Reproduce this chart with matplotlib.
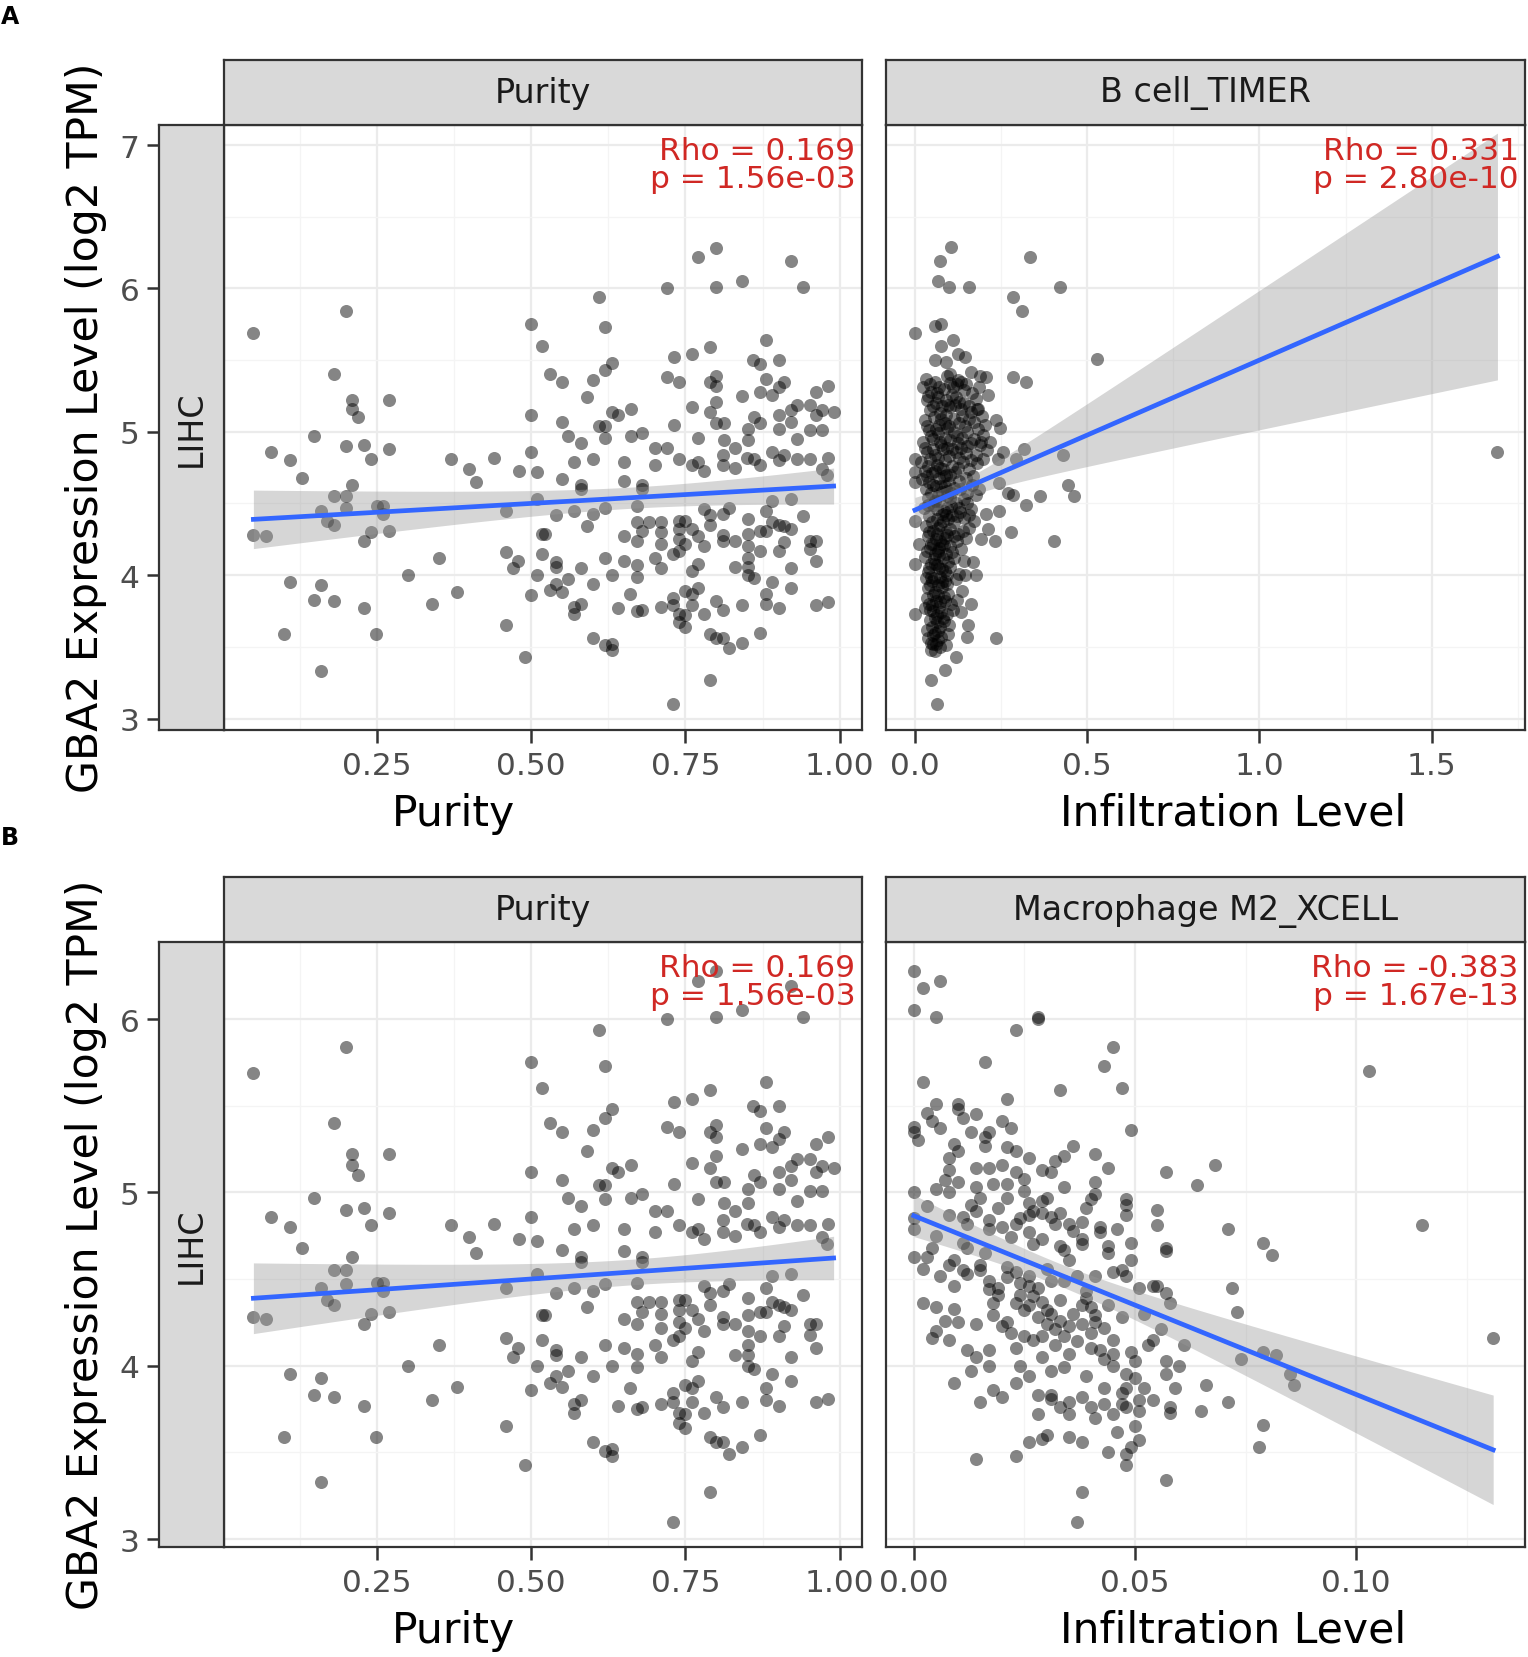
import numpy as np
import matplotlib
matplotlib.use("Agg")
import matplotlib.pyplot as plt

# ---- data (x, GBA2 log2 TPM) ----
purity_pts = [
    (0.050, 5.69), (0.200, 5.84), (0.180, 5.40), (0.210, 5.22), (0.210, 5.16), (0.220, 5.10),
    (0.269, 5.22), (0.149, 4.97), (0.079, 4.86), (0.110, 4.80), (0.129, 4.68), (0.200, 4.90),
    (0.229, 4.91), (0.240, 4.81), (0.269, 4.88), (0.210, 4.63), (0.370, 4.81), (0.400, 4.74),
    (0.440, 4.82), (0.410, 4.65), (0.480, 4.73), (0.510, 4.72), (0.500, 5.75), (0.518, 5.60),
    (0.500, 5.12), (0.500, 4.86),
    (0.610, 5.94), (0.620, 5.73), (0.631, 5.48), (0.619, 5.43), (0.530, 5.40), (0.550, 5.35),
    (0.600, 5.36), (0.590, 5.24), (0.550, 5.07), (0.631, 5.14), (0.640, 5.12), (0.661, 5.16),
    (0.610, 5.04), (0.619, 5.04), (0.619, 4.96), (0.560, 4.97), (0.580, 4.92), (0.570, 4.79),
    (0.600, 4.81), (0.550, 4.67), (0.580, 4.63), (0.651, 4.79), (0.651, 4.66), (0.661, 4.97),
    (0.680, 4.99), (0.701, 4.89), (0.700, 4.77), (0.680, 4.63), (0.720, 6.00), (0.731, 5.52),
    (0.720, 5.38), (0.740, 5.35), (0.731, 5.05), (0.720, 4.89), (0.740, 4.81), (0.761, 5.54),
    (0.761, 5.17), (0.770, 6.22), (0.800, 6.28), (0.800, 6.01), (0.790, 5.59), (0.800, 5.39),
    (0.790, 5.35), (0.800, 5.32), (0.800, 5.21), (0.790, 5.14), (0.800, 5.06), (0.812, 5.06),
    (0.770, 4.96), (0.812, 4.94), (0.761, 4.77), (0.770, 4.79), (0.780, 4.73), (0.811, 4.84),
    (0.811, 4.77), (0.831, 4.75), (0.831, 4.89), (0.841, 6.05), (0.841, 5.25), (0.851, 5.02),
    (0.851, 4.94), (0.861, 5.10), (0.870, 5.06), (0.850, 4.82), (0.861, 4.81), (0.870, 4.77),
    (0.860, 5.50), (0.870, 5.47), (0.881, 5.64), (0.901, 5.50), (0.881, 5.37), (0.870, 5.28),
    (0.890, 5.26), (0.901, 5.31), (0.910, 5.35), (0.901, 5.12), (0.901, 5.02), (0.921, 5.15),
    (0.931, 5.19), (0.921, 5.07), (0.931, 4.95), (0.890, 4.86), (0.901, 4.80), (0.910, 4.84),
    (0.931, 4.81), (0.921, 6.19), (0.941, 6.01), (0.951, 5.19), (0.961, 5.28), (0.981, 5.32),
    (0.961, 5.12), (0.971, 5.15), (0.990, 5.14), (0.951, 5.01), (0.971, 5.01), (0.951, 4.81),
    (0.981, 4.82), (0.971, 4.74), (0.980, 4.70),
    (0.180, 4.55), (0.200, 4.55), (0.200, 4.47), (0.160, 4.45), (0.170, 4.38), (0.180, 4.35),
    (0.050, 4.28), (0.070, 4.27), (0.240, 4.30), (0.229, 4.24), (0.269, 4.31), (0.250, 4.48),
    (0.260, 4.48), (0.260, 4.43), (0.350, 4.12), (0.300, 4.00), (0.110, 3.95), (0.159, 3.93),
    (0.149, 3.83), (0.180, 3.82), (0.229, 3.77), (0.340, 3.80), (0.380, 3.88), (0.099, 3.59),
    (0.249, 3.59), (0.159, 3.33), (0.460, 4.45), (0.460, 4.16), (0.479, 4.10), (0.470, 4.05),
    (0.510, 4.00), (0.500, 3.86), (0.518, 4.29), (0.518, 4.15), (0.460, 3.65), (0.490, 3.43),
    (0.510, 4.53),
    (0.580, 4.60), (0.680, 4.60), (0.600, 4.43), (0.570, 4.45), (0.540, 4.42), (0.590, 4.34),
    (0.620, 4.47), (0.672, 4.48), (0.523, 4.29), (0.540, 4.09), (0.540, 4.06), (0.560, 3.97),
    (0.540, 3.94), (0.550, 3.88), (0.530, 3.90), (0.580, 4.05), (0.600, 3.94), (0.570, 3.78),
    (0.570, 3.73), (0.580, 3.80), (0.620, 4.12), (0.631, 4.00), (0.650, 4.27), (0.650, 4.10),
    (0.671, 4.37), (0.671, 4.24), (0.671, 4.07), (0.671, 3.99), (0.680, 4.31), (0.691, 4.37),
    (0.710, 4.37), (0.710, 4.30), (0.710, 4.22), (0.700, 4.12), (0.710, 4.05), (0.660, 3.87),
    (0.640, 3.77), (0.671, 3.75), (0.680, 3.76), (0.710, 3.78), (0.600, 3.56), (0.620, 3.51),
    (0.631, 3.48), (0.631, 3.52), (0.730, 3.84), (0.730, 3.79), (0.739, 3.73), (0.739, 3.67),
    (0.750, 3.64), (0.750, 3.72), (0.760, 3.79), (0.750, 3.89), (0.760, 3.87), (0.770, 3.91),
    (0.780, 3.73), (0.730, 4.15), (0.739, 4.17), (0.760, 4.03), (0.770, 4.08), (0.739, 4.38),
    (0.739, 4.32), (0.739, 4.25), (0.750, 4.38), (0.750, 4.22), (0.760, 4.32), (0.770, 4.27),
    (0.780, 4.20), (0.780, 4.46), (0.790, 4.42), (0.790, 4.35), (0.800, 3.82), (0.811, 3.76),
    (0.790, 3.59), (0.800, 3.56), (0.811, 3.56), (0.821, 3.49), (0.841, 3.53), (0.790, 3.27),
    (0.730, 3.10), (0.811, 4.43), (0.811, 4.28), (0.811, 4.24), (0.831, 4.24), (0.821, 4.47),
    (0.851, 4.39), (0.851, 4.29), (0.851, 4.20), (0.851, 4.12), (0.831, 4.06), (0.851, 4.06),
    (0.851, 4.00), (0.861, 3.98), (0.870, 4.17), (0.841, 3.79), (0.870, 3.60), (0.870, 4.31),
    (0.881, 4.31), (0.881, 4.45), (0.890, 4.52), (0.890, 4.37), (0.901, 4.35), (0.910, 4.34),
    (0.921, 4.32), (0.921, 4.53), (0.941, 4.41), (0.910, 4.23), (0.901, 4.17), (0.890, 3.95),
    (0.881, 3.87), (0.881, 3.80), (0.901, 3.77), (0.921, 4.05), (0.921, 3.91), (0.951, 4.24),
    (0.951, 4.18), (0.961, 4.24), (0.961, 4.10), (0.961, 3.79), (0.981, 3.81),
]

bcell_pts = [
    # spread points
    (0.104, 6.29), (0.072, 6.19), (0.067, 6.05), (0.099, 6.01), (0.157, 6.01), (0.335, 6.22),
    (0.422, 6.01), (0.286, 5.94), (0.311, 5.84), (0.001, 5.69), (0.057, 5.74), (0.077, 5.75),
    (0.111, 5.64), (0.077, 5.60), (0.125, 5.54), (0.057, 5.50), (0.091, 5.49), (0.144, 5.52),
    (0.101, 5.40), (0.164, 5.42), (0.188, 5.39), (0.207, 5.38), (0.135, 5.35), (0.284, 5.38),
    (0.321, 5.35), (0.212, 5.26), (0.529, 5.51), (0.236, 5.08), (0.246, 5.03), (0.183, 5.16),
    (0.193, 4.93), (0.217, 4.93), (0.255, 4.86), (0.316, 4.88), (0.294, 4.81), (0.241, 4.81),
    (0.429, 4.84), (0.444, 4.63), (0.461, 4.55), (0.362, 4.55), (0.323, 4.49), (0.284, 4.56),
    (0.270, 4.57), (0.243, 4.64), (0.243, 4.45), (0.207, 4.43), (0.212, 4.32), (0.191, 4.25),
    (0.231, 4.24), (0.279, 4.30), (0.405, 4.24), (0.168, 4.09), (0.178, 4.00), (0.144, 4.00),
    (0.164, 3.80), (0.154, 3.65), (0.152, 3.57), (0.234, 3.56), (0.120, 3.43), (0.086, 3.34),
    (0.046, 3.27), (0.065, 3.10), (0.048, 3.48), (0.000, 3.73), (0.000, 4.08), (0.011, 4.22),
    (0.000, 4.38), (0.000, 4.81), (0.000, 4.65), (0.000, 4.72), (0.135, 3.74), (0.096, 3.59),
    (0.091, 3.51), (1.691, 4.86),
    # dense column near zero
    (0.031, 5.37), (0.058, 5.35), (0.094, 5.39), (0.122, 5.33), (0.024, 5.31), (0.047, 5.28),
    (0.083, 5.30), (0.109, 5.26), (0.142, 5.29), (0.036, 5.22), (0.068, 5.24), (0.097, 5.19),
    (0.128, 5.21), (0.157, 5.18), (0.176, 5.23), (0.043, 5.15), (0.074, 5.13), (0.103, 5.17),
    (0.138, 5.11), (0.162, 5.14), (0.029, 5.08), (0.055, 5.10), (0.086, 5.06), (0.114, 5.09),
    (0.146, 5.04), (0.171, 5.07), (0.041, 5.01), (0.066, 4.99), (0.093, 5.03), (0.121, 4.97),
    (0.152, 5.00), (0.198, 4.98), (0.022, 4.93), (0.052, 4.95), (0.077, 4.91), (0.101, 4.94),
    (0.133, 4.89), (0.163, 4.92), (0.034, 4.86), (0.057, 4.84), (0.081, 4.88), (0.099, 4.83),
    (0.118, 4.86), (0.148, 4.85), (0.208, 4.87), (0.019, 4.79), (0.044, 4.81), (0.063, 4.77),
    (0.088, 4.80), (0.107, 4.76), (0.139, 4.79), (0.181, 4.78), (0.028, 4.73), (0.049, 4.71),
    (0.072, 4.75), (0.091, 4.70), (0.117, 4.72), (0.158, 4.74), (0.021, 4.67), (0.042, 4.65),
    (0.069, 4.68), (0.098, 4.64), (0.127, 4.66), (0.168, 4.69), (0.033, 4.60), (0.061, 4.62),
    (0.079, 4.58), (0.112, 4.61), (0.151, 4.57), (0.187, 4.60), (0.038, 4.54), (0.059, 4.52),
    (0.092, 4.55), (0.119, 4.50), (0.141, 4.53), (0.176, 4.56), (0.027, 4.47), (0.053, 4.49),
    (0.084, 4.45), (0.104, 4.48), (0.131, 4.44), (0.162, 4.46), (0.041, 4.41), (0.064, 4.39),
    (0.089, 4.42), (0.113, 4.37), (0.143, 4.40), (0.171, 4.38), (0.031, 4.34), (0.052, 4.31),
    (0.073, 4.35), (0.102, 4.32), (0.124, 4.29), (0.156, 4.33), (0.039, 4.27), (0.061, 4.25),
    (0.078, 4.22), (0.094, 4.28), (0.121, 4.24), (0.149, 4.26), (0.044, 4.19), (0.066, 4.17),
    (0.083, 4.21), (0.108, 4.16), (0.133, 4.18), (0.029, 4.13), (0.054, 4.11), (0.071, 4.14),
    (0.096, 4.09), (0.114, 4.12), (0.141, 4.10), (0.042, 4.05), (0.063, 4.07), (0.086, 4.03),
    (0.101, 4.06), (0.127, 4.01), (0.033, 3.98), (0.049, 3.96), (0.074, 3.99), (0.092, 3.94),
    (0.118, 3.97), (0.039, 3.91), (0.058, 3.88), (0.079, 3.92), (0.097, 3.87), (0.136, 3.89),
    (0.034, 3.84), (0.061, 3.82), (0.083, 3.85), (0.104, 3.80), (0.122, 3.83), (0.028, 3.77),
    (0.052, 3.75), (0.071, 3.78), (0.093, 3.73), (0.111, 3.76), (0.043, 3.69), (0.064, 3.67),
    (0.082, 3.70), (0.099, 3.65), (0.036, 3.62), (0.057, 3.60), (0.076, 3.57), (0.047, 3.53),
    (0.068, 3.55), (0.058, 3.47),
    (0.125, 5.36), (0.148, 5.33), (0.166, 5.27), (0.185, 5.31), (0.119, 5.24), (0.143, 5.20),
    (0.181, 5.16), (0.196, 5.11), (0.128, 5.06), (0.158, 5.09), (0.183, 5.02), (0.203, 5.05),
    (0.113, 5.00), (0.137, 4.96), (0.171, 4.95), (0.188, 4.91), (0.126, 4.92), (0.151, 4.90),
    (0.176, 4.84), (0.197, 4.81), (0.129, 4.82), (0.162, 4.80), (0.108, 4.88), (0.087, 4.96),
    (0.069, 5.05), (0.079, 5.18), (0.091, 5.12), (0.062, 5.20), (0.111, 5.31), (0.134, 5.16),
    (0.082, 4.74), (0.103, 4.70), (0.126, 4.75), (0.149, 4.68), (0.076, 4.62), (0.094, 4.59),
    (0.131, 4.60), (0.165, 4.63), (0.071, 4.52), (0.101, 4.54), (0.128, 4.47), (0.152, 4.50),
    (0.078, 4.43), (0.097, 4.39), (0.122, 4.41), (0.158, 4.42), (0.067, 4.33), (0.089, 4.30),
    (0.114, 4.27), (0.139, 4.31),
    (0.048, 4.22), (0.069, 4.19), (0.091, 4.15), (0.058, 4.08), (0.079, 4.04), (0.047, 3.99),
    (0.066, 3.93), (0.087, 3.96), (0.053, 3.86), (0.072, 3.81), (0.044, 3.76), (0.063, 3.72),
    (0.084, 3.68), (0.049, 3.64), (0.067, 3.61), (0.053, 3.52), (0.039, 3.56), (0.072, 3.50),
    (0.041, 3.80), (0.037, 4.02),
    (0.045, 5.33), (0.071, 5.31), (0.101, 5.34), (0.038, 5.25), (0.064, 5.27), (0.089, 5.22),
    (0.116, 5.19), (0.051, 5.18), (0.076, 5.09), (0.098, 5.04), (0.035, 5.04), (0.061, 5.02),
    (0.047, 4.97), (0.073, 4.93), (0.094, 4.89), (0.029, 4.89), (0.053, 4.88), (0.067, 4.82),
    (0.039, 4.76), (0.058, 4.73), (0.083, 4.69), (0.035, 4.69), (0.052, 4.63), (0.087, 4.62),
    (0.047, 4.57), (0.068, 4.55), (0.105, 4.57), (0.039, 4.49), (0.064, 4.46), (0.093, 4.47),
    (0.049, 4.37), (0.081, 4.38), (0.108, 4.42), (0.041, 4.30), (0.063, 4.29), (0.088, 4.26),
    (0.053, 4.22), (0.072, 4.24), (0.101, 4.20), (0.036, 4.17), (0.058, 4.15), (0.082, 4.12),
    (0.048, 4.08), (0.069, 4.05), (0.092, 4.00), (0.056, 3.98), (0.078, 3.95), (0.045, 3.93),
    (0.067, 3.86), (0.088, 3.82), (0.049, 3.79), (0.077, 3.74), (0.058, 3.70), (0.072, 3.64),
    (0.052, 3.58), (0.062, 3.52),
]

m2_pts = [
    (0.000, 6.28), (0.002, 6.18), (0.006, 6.22), (0.000, 6.05), (0.005, 6.01), (0.028, 6.01),
    (0.028, 6.00), (0.023, 5.94), (0.016, 5.75), (0.002, 5.64), (0.021, 5.54), (0.033, 5.59),
    (0.045, 5.84), (0.043, 5.73), (0.047, 5.60), (0.005, 5.51), (0.010, 5.51), (0.010, 5.48),
    (0.011, 5.43), (0.000, 5.38), (0.000, 5.35), (0.001, 5.30), (0.004, 5.41), (0.006, 5.37),
    (0.013, 5.35), (0.017, 5.35), (0.016, 5.32), (0.016, 5.27), (0.020, 5.41), (0.022, 5.37),
    (0.036, 5.27), (0.034, 5.21), (0.021, 5.26), (0.023, 5.24), (0.026, 5.20), (0.032, 5.18),
    (0.041, 5.22), (0.049, 5.36), (0.044, 5.14), (0.057, 5.12), (0.010, 5.24), (0.008, 5.20),
    (0.008, 5.13), (0.007, 5.07), (0.010, 5.06), (0.005, 5.02), (0.008, 5.00), (0.014, 5.14),
    (0.017, 5.14), (0.020, 5.16), (0.023, 5.12), (0.021, 5.05), (0.025, 5.08), (0.029, 5.13),
    (0.031, 5.12), (0.014, 5.03), (0.015, 4.97), (0.021, 4.97), (0.025, 5.01), (0.026, 4.94),
    (0.029, 4.95), (0.030, 4.97), (0.000, 5.00), (0.014, 4.89), (0.008, 4.87), (0.011, 4.86),
    (0.012, 4.82), (0.017, 4.84), (0.017, 4.79), (0.020, 4.80), (0.023, 4.82), (0.026, 4.87),
    (0.027, 4.89), (0.029, 4.88), (0.026, 4.77), (0.032, 4.82), (0.033, 4.88), (0.035, 4.82),
    (0.038, 4.83), (0.041, 5.06), (0.041, 4.99), (0.040, 4.96), (0.048, 4.96), (0.048, 4.93),
    (0.048, 4.87), (0.055, 4.90), (0.055, 4.81), (0.042, 4.80), (0.042, 4.77), (0.046, 4.79),
    (0.049, 4.71), (0.038, 4.73), (0.044, 4.69), (0.057, 4.68), (0.000, 4.85), (0.000, 4.79),
    (0.005, 4.75), (0.011, 4.71), (0.029, 4.73), (0.033, 4.69),
    (0.000, 4.63), (0.003, 4.63), (0.002, 4.56), (0.008, 4.58), (0.009, 4.61), (0.011, 4.55),
    (0.012, 4.53), (0.012, 4.68), (0.015, 4.58), (0.015, 4.55), (0.017, 4.49), (0.017, 4.44),
    (0.019, 4.45), (0.021, 4.57), (0.021, 4.51), (0.023, 4.54), (0.024, 4.48), (0.026, 4.46),
    (0.028, 4.45), (0.026, 4.52), (0.031, 4.49), (0.034, 4.49), (0.034, 4.67), (0.038, 4.70),
    (0.018, 4.36), (0.018, 4.29), (0.020, 4.23), (0.021, 4.25), (0.023, 4.36), (0.024, 4.41),
    (0.025, 4.32), (0.026, 4.35), (0.029, 4.37), (0.030, 4.32), (0.031, 4.30), (0.033, 4.26),
    (0.030, 4.24), (0.035, 4.23), (0.025, 4.17), (0.027, 4.15), (0.029, 4.17), (0.032, 4.12),
    (0.034, 4.17), (0.032, 4.21), (0.002, 4.36), (0.005, 4.34), (0.009, 4.33), (0.007, 4.26),
    (0.010, 4.25), (0.005, 4.20), (0.004, 4.16), (0.008, 4.15), (0.012, 4.09), (0.014, 4.05),
    (0.017, 4.09), (0.013, 3.97), (0.017, 4.00), (0.023, 4.10), (0.024, 4.00), (0.029, 4.05),
    (0.031, 3.97), (0.034, 3.99), (0.035, 4.07), (0.009, 3.90), (0.018, 3.86), (0.020, 3.82),
    (0.023, 3.90), (0.015, 3.79), (0.028, 3.83), (0.031, 3.83), (0.031, 3.81), (0.028, 3.72),
    (0.035, 3.79), (0.038, 3.82), (0.035, 3.72), (0.040, 3.76), (0.043, 3.78), (0.043, 3.87),
    (0.045, 3.72), (0.047, 3.78), (0.048, 3.76), (0.051, 3.74), (0.051, 3.80), (0.052, 3.87),
    (0.048, 3.87), (0.050, 3.93), (0.048, 3.95), (0.050, 3.65), (0.051, 3.57), (0.049, 3.53),
    (0.048, 3.49), (0.048, 3.43), (0.044, 3.50), (0.038, 3.56), (0.035, 3.59), (0.030, 3.60),
    (0.029, 3.58), (0.026, 3.56), (0.023, 3.48), (0.014, 3.46), (0.038, 3.27), (0.037, 3.10),
    (0.057, 3.34), (0.039, 4.43), (0.039, 4.39), (0.038, 4.35), (0.040, 4.34), (0.041, 4.29),
    (0.041, 4.25), (0.038, 4.24), (0.040, 4.19), (0.043, 4.22), (0.040, 4.10), (0.042, 4.09),
    (0.045, 4.07), (0.043, 4.04), (0.045, 4.00), (0.049, 4.08), (0.041, 4.52), (0.044, 4.65),
    (0.045, 4.54), (0.047, 4.55), (0.048, 4.52), (0.049, 4.61), (0.051, 4.45), (0.054, 4.46),
    (0.055, 4.46), (0.057, 4.42), (0.058, 4.36), (0.052, 4.30), (0.056, 4.21), (0.054, 4.15),
    (0.053, 4.12), (0.057, 4.66), (0.061, 4.12), (0.057, 4.03), (0.060, 4.00), (0.057, 3.95),
    (0.059, 3.87), (0.058, 3.76),
    (0.013, 4.93), (0.019, 4.91), (0.024, 4.85), (0.031, 4.86), (0.036, 4.78), (0.022, 4.74),
    (0.027, 4.70), (0.016, 4.65), (0.035, 4.61), (0.030, 4.56), (0.037, 4.52), (0.019, 4.41),
    (0.027, 4.40), (0.033, 4.38), (0.044, 4.35), (0.047, 4.28), (0.036, 4.30), (0.028, 4.28),
    (0.014, 4.24), (0.022, 4.19), (0.037, 4.14), (0.045, 4.15), (0.050, 4.03), (0.039, 3.94),
    (0.026, 3.94), (0.047, 3.84), (0.054, 3.80), (0.041, 3.70), (0.033, 3.76), (0.046, 3.62),
    (0.009, 4.46), (0.006, 4.52), (0.004, 4.68), (0.003, 4.92), (0.009, 5.28), (0.014, 5.45),
    (0.003, 5.46), (0.018, 5.05), (0.034, 5.03), (0.039, 4.91),
    (0.103, 5.70), (0.115, 4.81), (0.131, 4.16), (0.068, 5.16), (0.064, 5.04), (0.071, 4.79),
    (0.079, 4.71), (0.081, 4.64), (0.072, 4.45), (0.073, 4.31), (0.074, 4.04), (0.079, 4.08),
    (0.082, 4.06), (0.085, 3.95), (0.086, 3.89), (0.079, 3.66), (0.078, 3.53), (0.071, 3.79),
    (0.066, 3.89), (0.065, 3.74), (0.058, 3.73),
]

purity_stats = "Rho = 0.169\np = 1.56e-03"
bcell_stats = "Rho = 0.331\np = 2.80e-10"
m2_stats = "Rho = -0.383\np = 1.67e-13"

purity_ticks = [0.25, 0.50, 0.75, 1.00]
purity_ticklabels = ["0.25", "0.50", "0.75", "1.00"]
bcell_ticks = [0.0, 0.5, 1.0, 1.5]
bcell_ticklabels = ["0.0", "0.5", "1.0", "1.5"]
m2_ticks = [0.00, 0.05, 0.10]
m2_ticklabels = ["0.00", "0.05", "0.10"]

W, H = 1528, 1658
fig = plt.figure(figsize=(W / 100, H / 100), dpi=100)
plt.rcParams["font.family"] = "DejaVu Sans"

STRIP = "#D9D9D9"
EDGE = "#333333"
TICKTXT = "#4D4D4D"
RED = "#D02824"


def fx(px):
    return px / W


def fy(py):
    return 1 - py / H


def draw_panel(rect, pts, xlim, ylim, xticks, xticklabels, xminor, yticks, stats, label):
    x, y = np.array(pts).T
    ax = fig.add_axes(rect)
    ax.set_xlim(*xlim)
    ax.set_ylim(*ylim)
    ax.set_xticks(xticks)
    ax.set_xticklabels(xticklabels)
    ax.set_xticks(xminor, minor=True)
    ax.set_yticks(yticks)
    ax.set_yticks(np.array(yticks[:-1]) + 0.5, minor=True)
    ax.grid(which="major", color="#EBEBEB", lw=1.6)
    ax.grid(which="minor", color="#F4F4F4", lw=0.9)
    ax.set_axisbelow(True)
    ax.tick_params(axis="x", which="major", length=9, width=1.8, color=EDGE,
                   labelsize=22.5, labelcolor=TICKTXT, pad=6)
    ax.tick_params(axis="x", which="minor", length=0)
    ax.tick_params(axis="y", which="both", length=0, labelleft=False)
    for s in ax.spines.values():
        s.set_color(EDGE)
        s.set_linewidth(1.6)

    ax.scatter(x, y, s=88, c="black", alpha=0.48, linewidths=0, zorder=2)

    # linear fit with 95% band
    n = len(x)
    b, a = np.polyfit(x, y, 1)
    resid = y - (a + b * x)
    sd = np.sqrt(np.sum(resid ** 2) / (n - 2))
    xs = np.linspace(x.min(), x.max(), 100)
    se = sd * np.sqrt(1 / n + (xs - x.mean()) ** 2 / np.sum((x - x.mean()) ** 2))
    fit = a + b * xs
    ax.fill_between(xs, fit - 1.97 * se, fit + 1.97 * se, color="#999999", alpha=0.4,
                    lw=0, zorder=3)
    ax.plot(xs, fit, color="#3366FF", lw=3.4, zorder=4)

    ax.text(0.99, 0.982, stats, transform=ax.transAxes, ha="right", va="top",
            color=RED, fontsize=22.5, linespacing=0.95, zorder=5)

    sax = fig.add_axes([rect[0], rect[1] + rect[3], rect[2], fy(61) - fy(126)])
    sax.set_facecolor(STRIP)
    sax.set_xticks([])
    sax.set_yticks([])
    for s in sax.spines.values():
        s.set_color(EDGE)
        s.set_linewidth(1.6)
    sax.text(0.5, 0.5, label, transform=sax.transAxes, ha="center", va="center",
             fontsize=24, color="#1A1A1A")
    return ax


def draw_row(top, ylim, yticks, right_pts, right_xlim, right_ticks, right_labels,
             right_minor, right_stats, right_label, right_title):
    bottom = fy(top + 605)
    h = fy(top) - bottom
    left = draw_panel([fx(224), bottom, fx(638), h], purity_pts, (0.0024, 1.036), ylim,
                      purity_ticks, purity_ticklabels, [0.125, 0.375, 0.625, 0.875],
                      yticks, purity_stats, "Purity")
    draw_panel([fx(886), bottom, fx(639), h], right_pts, right_xlim, ylim,
               right_ticks, right_labels, right_minor, yticks, right_stats, right_label)

    # row strip on the left carries the y axis
    rax = fig.add_axes([fx(159), bottom, fx(65), h])
    rax.set_facecolor(STRIP)
    rax.set_ylim(*ylim)
    rax.set_yticks(yticks)
    rax.set_yticklabels([str(t) for t in yticks])
    rax.set_xticks([])
    rax.tick_params(axis="y", length=9, width=1.8, color=EDGE, labelsize=22.5,
                    labelcolor=TICKTXT, pad=5)
    for s in rax.spines.values():
        s.set_color(EDGE)
        s.set_linewidth(1.6)
    rax.text(0.5, 0.5, "LIHC", transform=rax.transAxes, rotation=90, ha="center",
             va="center", fontsize=24, color="#1A1A1A")

    fig.text(fx(86), fy(top + 302), "GBA2 Expression Level (log2 TPM)", rotation=90,
             ha="center", va="center", fontsize=30.7)
    fig.text(fx(454), fy(top + 700), "Purity", ha="center", va="baseline", fontsize=30.7)
    fig.text(fx(1233), fy(top + 700), right_title, ha="center", va="baseline",
             fontsize=30.7)
    return left


draw_row(126, (2.92, 7.14), [3, 4, 5, 6, 7], bcell_pts, (-0.084, 1.771),
         bcell_ticks, bcell_ticklabels, [0.25, 0.75, 1.25, 1.75], bcell_stats,
         "B cell_TIMER", "Infiltration Level")
draw_row(943, (2.954, 6.445), [3, 4, 5, 6], m2_pts, (-0.0063, 0.1382),
         m2_ticks, m2_ticklabels, [0.025, 0.075, 0.125], m2_stats,
         "Macrophage M2_XCELL", "Infiltration Level")

fig.text(fx(10), fy(17), "A", fontsize=17, fontweight="bold", ha="center", va="center")
fig.text(fx(10), fy(838), "B", fontsize=17, fontweight="bold", ha="center", va="center")

fig.savefig("out.png", dpi=100)
